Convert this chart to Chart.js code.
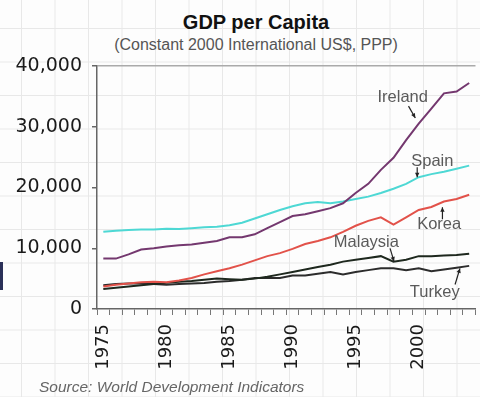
<!DOCTYPE html>
<html lang="en">

<head>
  <meta charset="UTF-8" />
  <title>GDP per Capita</title>
  <script src="https://cdn.jsdelivr.net/npm/chart.js"></script>
  <style>
    html,
    body {
      margin: 0;
      padding: 0;
      width: 480px;
      height: 397px;
      overflow: hidden;
    }

    body {
      position: relative;
      font-family: 'Liberation Sans', Arial, sans-serif;
      background-color: #fdfdfd;
      background-image:
        linear-gradient(to right, #e8e8e8 1px, transparent 1px),
        linear-gradient(to bottom, #e8e8e8 1px, transparent 1px);
      background-size: 33.5px 33.5px;
      background-position: 21px 28px;
    }

    canvas {
      position: absolute;
      left: 0;
      top: 0;
    }

    .titulo {
      position: absolute;
      left: 0;
      width: 512px;
      text-align: center;
      white-space: nowrap;
    }

    #title {
      top: 12px;
      font-size: 20px;
      line-height: 20px;
      font-weight: bold;
      color: #111;
    }

    #subtitle {
      top: 37px;
      font-size: 16px;
      line-height: 16px;
      color: #555;
    }

    #source {
      position: absolute;
      left: 39px;
      top: 379px;
      font-size: 15.5px;
      line-height: 16px;
      font-style: italic;
      color: #666;
      white-space: nowrap;
    }

    #edge {
      position: absolute;
      left: 0;
      top: 262px;
      width: 3px;
      height: 28px;
      background: #2a3058;
    }
  </style>
</head>

<body>
  <div id="title" class="titulo">GDP per Capita</div>
  <div id="subtitle" class="titulo">(Constant 2000 International US$, PPP)</div>
  <canvas id="gdpChart" width="500" height="397"></canvas>
  <div id="source">Source: World Development Indicators</div>
  <div id="edge"></div>

  <script>
    const years = [1975, 1976, 1977, 1978, 1979, 1980, 1981, 1982, 1983, 1984,
      1985, 1986, 1987, 1988, 1989, 1990, 1991, 1992, 1993, 1994,
      1995, 1996, 1997, 1998, 1999, 2000, 2001, 2002, 2003, 2004];
    const labeledYears = [1975, 1980, 1985, 1990, 1995, 2000];
    const yTicks = [0, 10000, 20000, 30000, 40000];

    const ireland = [8300, 8300, 9000, 9800, 10000, 10300, 10500, 10600, 10900, 11200,
      11800, 11800, 12300, 13300, 14300, 15300, 15600, 16100, 16600, 17400,
      19100, 20600, 22900, 24900, 27800, 30500, 33000, 35500, 35800, 37200];
    const spain = [12700, 12900, 13000, 13100, 13100, 13200, 13150, 13300, 13450, 13550,
      13800, 14200, 14900, 15600, 16300, 16900, 17400, 17600, 17400, 17700,
      18100, 18500, 19100, 19800, 20600, 21700, 22200, 22600, 23100, 23600];
    const korea = [3700, 4000, 4200, 4400, 4500, 4400, 4700, 5100, 5700, 6200,
      6700, 7300, 8000, 8700, 9200, 9900, 10700, 11200, 11800, 12700,
      13700, 14500, 15100, 13900, 15100, 16300, 16800, 17700, 18100, 18800];
    const malaysia = [3300, 3500, 3700, 3900, 4100, 4300, 4500, 4600, 4800, 5000,
      4900, 4800, 5000, 5300, 5700, 6100, 6500, 6900, 7300, 7800,
      8100, 8400, 8700, 7800, 8100, 8700, 8700, 8800, 8900, 9100];
    const turkey = [3900, 4100, 4200, 4200, 4100, 4000, 4100, 4200, 4300, 4500,
      4600, 4800, 5100, 5100, 5100, 5500, 5500, 5800, 6100, 5700,
      6100, 6400, 6700, 6700, 6400, 6700, 6200, 6500, 6800, 7100];

    // etiquetas de las series: [indice de año, valor]
    const notas = [
      { text: 'Ireland', at: [23.73, 34900], from: [24.19, 33400], to: [24.73, 31450] },
      { text: 'Spain', at: [26.08, 24340], from: [24.88, 23350], to: [24.88, 21700] },
      { text: 'Korea', at: [26.62, 13940], from: [26.88, 14770], to: [26.88, 16750] },
      { text: 'Malaysia', at: [20.85, 10890], from: [22.73, 9980], to: [23.04, 7840] },
      { text: 'Turkey', at: [26.27, 2800], from: [27.88, 4040], to: [28.27, 6680] }
    ];

    const colors = {
      ireland: '#74386f',
      spain: '#4ed8d4',
      korea: '#e2524a',
      malaysia: '#1e281e',
      turkey: '#2c2c2c'
    };

    const notasPlugin = {
      id: 'notas',
      afterDatasetsDraw(chart) {
        const ctx = chart.ctx;
        const xs = chart.scales.x;
        const ys = chart.scales.y;
        ctx.save();
        ctx.font = '16.5px "Liberation Sans", Arial, sans-serif';
        ctx.fillStyle = '#5a5a5a';
        ctx.textAlign = 'center';
        ctx.textBaseline = 'middle';
        notas.forEach(n => {
          ctx.fillText(n.text, xs.getPixelForValue(n.at[0]), ys.getPixelForValue(n.at[1]));
          const x1 = xs.getPixelForValue(n.from[0]);
          const y1 = ys.getPixelForValue(n.from[1]);
          const x2 = xs.getPixelForValue(n.to[0]);
          const y2 = ys.getPixelForValue(n.to[1]);
          ctx.strokeStyle = '#222';
          ctx.lineWidth = 1.2;
          ctx.beginPath();
          ctx.moveTo(x1, y1);
          ctx.lineTo(x2, y2);
          ctx.stroke();
          // punta de flecha
          const ang = Math.atan2(y2 - y1, x2 - x1);
          ctx.fillStyle = '#222';
          ctx.beginPath();
          ctx.moveTo(x2, y2);
          ctx.lineTo(x2 - 5 * Math.cos(ang - 0.45), y2 - 5 * Math.sin(ang - 0.45));
          ctx.lineTo(x2 - 5 * Math.cos(ang + 0.45), y2 - 5 * Math.sin(ang + 0.45));
          ctx.closePath();
          ctx.fill();
          ctx.fillStyle = '#5a5a5a';
        });
        ctx.restore();
      }
    };

    function serie(label, data, color) {
      return {
        label,
        data,
        borderColor: color,
        backgroundColor: color,
        borderWidth: 2,
        pointRadius: 0,
        tension: 0,
        fill: false
      };
    }

    const gdpChart = new Chart(document.getElementById('gdpChart'), {
      type: 'line',
      data: {
        labels: years,
        datasets: [
          serie('Ireland', ireland, colors.ireland),
          serie('Spain', spain, colors.spain),
          serie('Korea', korea, colors.korea),
          serie('Malaysia', malaysia, colors.malaysia),
          serie('Turkey', turkey, colors.turkey)
        ]
      },
      options: {
        responsive: false,
        animation: false,
        devicePixelRatio: 1,
        layout: { padding: { top: 66, right: 13, left: 0, bottom: 0 } },
        plugins: {
          legend: { display: false },
          tooltip: { enabled: false }
        },
        scales: {
          x: {
            type: 'category',
            offset: true,
            afterFit: (scale) => { scale.height = 88; },
            border: { display: true, color: '#666', width: 1.5 },
            grid: {
              offset: true,
              drawOnChartArea: false,
              drawTicks: true,
              tickLength: 6,
              tickColor: '#777'
            },
            ticks: {
              autoSkip: false,
              minRotation: 90,
              maxRotation: 90,
              padding: 9,
              color: '#1a1a1a',
              font: { family: 'DejaVu Sans', size: 18 },
              callback: function (value) {
                const y = years[value];
                return labeledYears.includes(y) ? String(y) : '';
              }
            }
          },
          y: {
            min: yTicks[0],
            max: yTicks[yTicks.length - 1],
            afterFit: (scale) => { scale.width = 97; },
            afterBuildTicks: (scale) => { scale.ticks = yTicks.map(v => ({ value: v })); },
            border: { display: true, color: '#666', width: 1.5 },
            grid: {
              drawOnChartArea: true,
              color: (c) => (c.tick && c.tick.value === 40000 ? '#aaaaaa' : 'rgba(0,0,0,0)'),
              lineWidth: 1.5,
              tickLength: 5,
              tickColor: '#666'
            },
            ticks: {
              padding: 10,
              color: '#1a1a1a',
              font: { family: 'DejaVu Sans', size: 19 },
              callback: (v) => v.toLocaleString('en-US')
            }
          }
        }
      },
      plugins: [notasPlugin]
    });
  </script>
</body>

</html>
